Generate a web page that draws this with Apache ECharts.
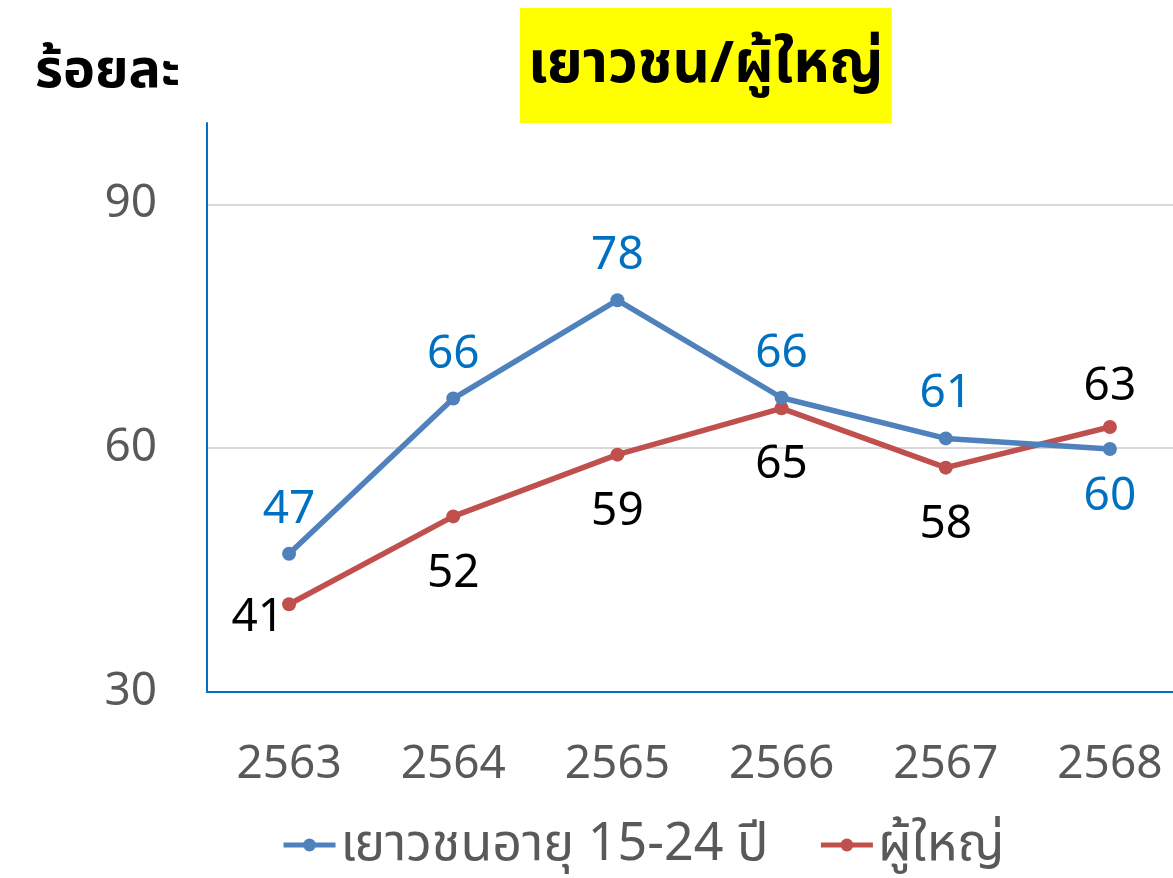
<!DOCTYPE html>
<html>
<head>
<meta charset="utf-8">
<script src="https://cdn.jsdelivr.net/npm/echarts@6/dist/echarts.min.js"></script>
<style>
  html, body { margin: 0; padding: 0; background: #fff; }
  #chart { width: 1173px; height: 878px; }
</style>
</head>
<body>
<div id="chart"></div>
<script>
// ข้อมูลจากกราฟ
var years = ["2563", "2564", "2565", "2566", "2567", "2568"];
var youth = [47.0, 66.1, 78.2, 66.2, 61.2, 59.9];
var adult = [40.8, 51.6, 59.2, 64.9, 57.6, 62.6];
var youthLabelPos = ["top", "top", "top", "top", "top", "bottom"];
var adultLabelPos = ["left", "bottom", "bottom", "bottom", "bottom", "top"];

var FONT = "'Noto Sans', 'Noto Sans Thai', sans-serif";

// ระยะห่างของป้ายตัวเลขตามตำแหน่ง
var labelDist = { top: 14, bottom: 18, left: 18 };
var adultDist = { top: 10, bottom: 27, left: 18 };

function withPos(values, pos, dist) {
  return values.map(function (v, i) {
    var item = { value: v, label: { position: pos[i], distance: dist[pos[i]] } };
    if (pos[i] === "left") item.label.offset = [20, 14];
    return item;
  });
}

var chart = echarts.init(document.getElementById("chart"));

chart.setOption({
  animation: false,
  title: [
    {
      text: "เยาวชน/ผู้ใหญ่",
      left: 520,
      top: 8,
      padding: [20, 8, 21, 8],
      backgroundColor: "#FFFF00",
      textStyle: { fontFamily: FONT, fontSize: 58, lineHeight: 74, fontWeight: "bold", color: "#000" }
    },
    {
      text: "ร้อยละ",
      left: 30,
      top: 40,
      textStyle: { fontFamily: FONT, fontSize: 54, fontWeight: "bold", color: "#000" }
    }
  ],
  legend: {
    bottom: 2,
    left: 276,
    itemWidth: 52,
    itemHeight: 16,
    itemGap: 50,
    lineStyle: { width: 5 },
    itemStyle: { borderWidth: 0 },
    textStyle: { fontFamily: FONT, fontSize: 52, color: "#595959" },
    data: ["เยาวชนอายุ 15-24 ปี", "ผู้ใหญ่"]
  },
  grid: { left: 207, top: 123, width: 985, bottom: 186, outerBoundsMode: "none", containLabel: false },
  xAxis: {
    type: "category",
    data: years,
    boundaryGap: true,
    axisLine: { lineStyle: { color: "#0070C0", width: 2 } },
    axisTick: { show: false },
    axisLabel: { fontFamily: FONT, fontSize: 46, color: "#595959", margin: 50 }
  },
  yAxis: {
    type: "value",
    min: 30,
    max: 100,
    interval: 30,
    axisLine: { show: true, lineStyle: { color: "#0070C0", width: 2 } },
    axisTick: { show: false },
    axisLabel: { fontFamily: FONT, fontSize: 46, color: "#595959", margin: 50, showMaxLabel: false },
    splitLine: { show: true, showMinLine: false, showMaxLine: false, lineStyle: { color: "#D9D9D9", width: 2 } }
  },
  series: [
    {
      name: "เยาวชนอายุ 15-24 ปี",
      type: "line",
      data: withPos(youth, youthLabelPos, labelDist),
      symbol: "circle",
      symbolSize: 14,
      lineStyle: { color: "#4F81BD", width: 5.5 },
      itemStyle: { color: "#4F81BD" },
      label: {
        show: true,
        fontFamily: FONT,
        fontSize: 46,
        color: "#0070C0",
        formatter: function (p) { return Math.round(p.value); }
      },
      z: 3
    },
    {
      name: "ผู้ใหญ่",
      type: "line",
      data: withPos(adult, adultLabelPos, adultDist),
      symbol: "circle",
      symbolSize: 14,
      lineStyle: { color: "#C0504D", width: 5.5 },
      itemStyle: { color: "#C0504D" },
      label: {
        show: true,
        fontFamily: FONT,
        fontSize: 46,
        color: "#000",
        formatter: function (p) { return Math.round(p.value); }
      },
      z: 2
    }
  ]
});
</script>
</body>
</html>
